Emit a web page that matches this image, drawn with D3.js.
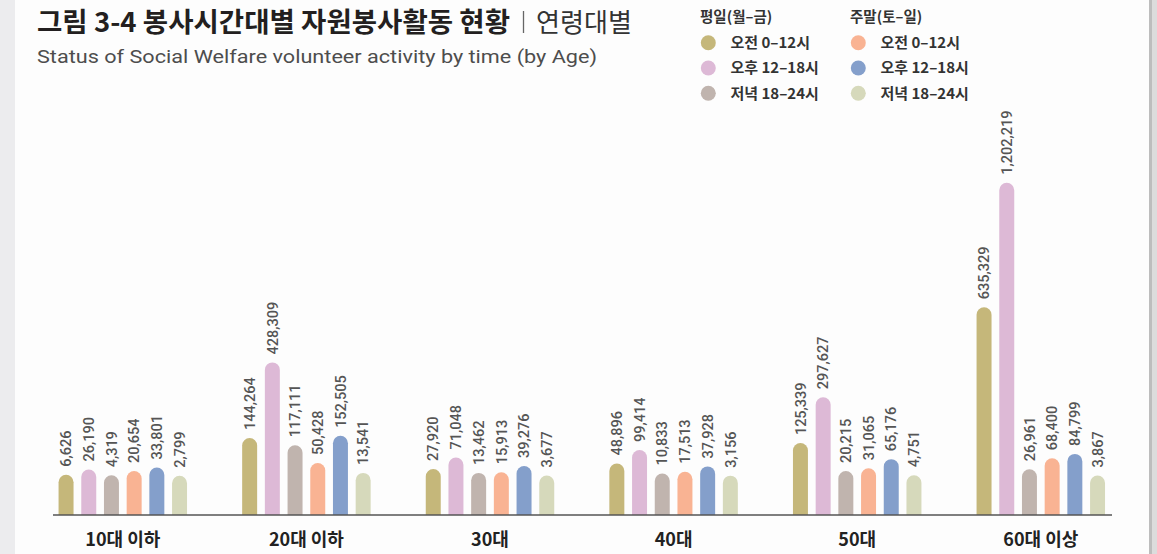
<!DOCTYPE html>
<html><head><meta charset="utf-8">
<script src="https://cdn.jsdelivr.net/npm/d3@7"></script>
<style>
html,body{margin:0;padding:0;background:#fff;}
svg{display:block;}
</style></head>
<body>
<svg id="chart" width="1157" height="554"></svg>
<script>
// ---- data ----
const ageGroups = ["10대 이하","20대 이하","30대","40대","50대","60대 이상"];
const seriesNames = ["평일 오전 0–12시","평일 오후 12–18시","평일 저녁 18–24시","주말 오전 0–12시","주말 오후 12–18시","주말 저녁 18–24시"];
const weekdayMorning   = [6626, 144264, 27920, 48896, 125339, 635329];
const weekdayAfternoon = [26190, 428309, 71048, 99414, 297627, 1202219];
const weekdayEvening   = [4319, 117111, 13462, 10833, 20215, 26961];
const weekendMorning   = [20654, 50428, 15913, 17513, 31065, 68400];
const weekendAfternoon = [33801, 152505, 39276, 37928, 65176, 84799];
const weekendEvening   = [2799, 13541, 3677, 3156, 4751, 3867];
const legendGroups = ["평일(월–금)","주말(토–일)"];
const legendItems = [["오전 0–12시","오후 12–18시","저녁 18–24시"],["오전 0–12시","오후 12–18시","저녁 18–24시"]];
const colors = ["#c5b77a","#ddb9d6","#c0b4ae","#f9b393","#849fcb","#d6d9bb"];

const seriesValues = [weekdayMorning, weekdayAfternoon, weekdayEvening, weekendMorning, weekendAfternoon, weekendEvening];

const svg = d3.select("#chart");
const W = 1157, H = 554;
const KR = "'Noto Sans CJK KR','Noto Sans',sans-serif";
const NUM = "Roboto,'Noto Sans',sans-serif";

// background & borders
svg.append("rect").attr("x",0).attr("y",0).attr("width",W).attr("height",H).attr("fill","#fdfdfd");
svg.append("rect").attr("x",0).attr("y",0).attr("width",15).attr("height",H).attr("fill","#ececee");
svg.append("rect").attr("x",1149).attr("y",0).attr("width",8).attr("height",H).attr("fill","#dcdcdc");
svg.append("rect").attr("x",1149).attr("y",0).attr("width",3).attr("height",H).attr("fill","#bdbdbd");

// title
svg.append("text").attr("x",37).attr("y",32)
  .attr("font-family",KR).attr("font-size",27).attr("font-weight",700).attr("fill","#231f20")
  .attr("textLength",473).attr("lengthAdjust","spacingAndGlyphs")
  .text("그림 3-4 봉사시간대별 자원봉사활동 현황");
svg.append("line").attr("x1",523.5).attr("x2",523.5).attr("y1",11).attr("y2",33)
  .attr("stroke","#666").attr("stroke-width",1.3);
svg.append("text").attr("x",536).attr("y",32)
  .attr("font-family",KR).attr("font-size",26).attr("font-weight",400).attr("fill","#333")
  .attr("textLength",96).attr("lengthAdjust","spacingAndGlyphs")
  .text("연령대별");

svg.append("text").attr("x",37).attr("y",63)
  .attr("font-family",NUM).attr("font-size",19).attr("font-weight",400).attr("fill","#4d4d4d")
  .attr("textLength",560).attr("lengthAdjust","spacingAndGlyphs")
  .text("Status of Social Welfare volunteer activity by time (by Age)");

// legend
const legendX = [700, 850];
legendGroups.forEach((g,gi)=>{
  svg.append("text").attr("x",legendX[gi]).attr("y",22)
    .attr("font-family",KR).attr("font-size",14.5).attr("font-weight",700).attr("fill","#333").text(g);
  legendItems[gi].forEach((it,ii)=>{
    const cy = 42.7 + ii*25.3;
    svg.append("circle").attr("cx",legendX[gi]+8.3).attr("cy",cy).attr("r",7.5).attr("fill",colors[gi*3+ii]);
    svg.append("text").attr("x",legendX[gi]+30.5).attr("y",cy).attr("dy","0.36em")
      .attr("font-family",KR).attr("font-size",15).attr("font-weight",700).attr("fill","#333").text(it);
  });
});

// scales
const x0 = d3.scaleBand().domain(ageGroups).range([31, 1132.6]).padding(0);
const x1 = d3.scaleBand().domain(seriesNames).range([-68.1, 68.1]).paddingInner(0.34).paddingOuter(0.17);
const y = d3.scaleLinear().domain([0, 640000, 1210000]).range([476.5, 306, 181]);
const baseY = 515;

const bw = x1.bandwidth();
const r = bw/2;
function barPath(xl, top){
  const xr = xl + bw;
  return `M${xl},${baseY} L${xl},${top+r} A${r},${r} 0 0 1 ${xr},${top+r} L${xr},${baseY} Z`;
}

const data = [];
ageGroups.forEach((a,ai)=>{
  seriesNames.forEach((s,si)=>{
    data.push({age:a, series:s, value:seriesValues[si][ai], color:colors[si]});
  });
});

const g = svg.append("g");
g.selectAll("path.bar").data(data).join("path").attr("class","bar")
  .attr("d", d => barPath(x0(d.age) + x0.bandwidth()/2 + x1(d.series), y(d.value)))
  .attr("fill", d => d.color);

g.selectAll("text.val").data(data).join("text").attr("class","val")
  .attr("transform", d => `translate(${x0(d.age) + x0.bandwidth()/2 + x1(d.series) + bw/2},${y(d.value)-8}) rotate(-90)`)
  .attr("dy","0.36em")
  .attr("font-family",NUM).attr("font-size",14.5).attr("font-weight",500).attr("fill","#555")
  .text(d => d3.format(",")(d.value));

// axis
svg.append("line").attr("x1",53).attr("x2",1112).attr("y1",baseY).attr("y2",baseY)
  .attr("stroke","#555").attr("stroke-width",1.5);

const xAxis = d3.axisBottom(x0).tickSize(0).tickPadding(0);
const ax = svg.append("g").attr("transform",`translate(0,${baseY})`).call(xAxis);
ax.select(".domain").remove();
ax.selectAll("text").attr("y",31).attr("dy",0)
  .attr("font-family",KR).attr("font-size",18).attr("font-weight",700).attr("fill","#222");
</script>
</body></html>
